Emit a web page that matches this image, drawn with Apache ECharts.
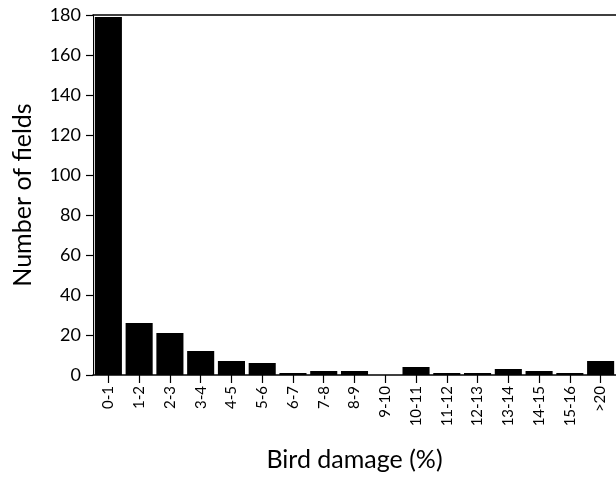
<!DOCTYPE html>
<html><head><meta charset="utf-8">
<script src="https://cdn.jsdelivr.net/npm/echarts@6/dist/echarts.min.js"></script>
<style>html,body{margin:0;padding:0;background:#fff}#c{width:616px;height:480px}</style>
</head><body><div id="c"></div>
<script>
var categories = ['0-1','1-2','2-3','3-4','4-5','5-6','6-7','7-8','8-9','9-10','10-11','11-12','12-13','13-14','14-15','15-16','>20'];
var fields = [179, 26, 21, 12, 7, 6, 1, 2, 2, 0, 4, 1, 1, 3, 2, 1, 7];
var yTicks = [0, 20, 40, 60, 80, 100, 120, 140, 160, 180];
var FONT = 'Lato';
var chart = echarts.init(document.getElementById('c'));
chart.setOption({
  animation: false,
  grid: {left: 93, right: 0, top: 15, bottom: 105},
  xAxis: [{
    type: 'category', data: categories, position: 'bottom',
    name: 'Bird damage (%)', nameLocation: 'middle', nameGap: 72,
    nameTextStyle: {color: '#000', fontFamily: FONT, fontSize: 25},
    axisLine: {show: true, lineStyle: {color: '#000', width: 1.5}},
    axisTick: {show: true, alignWithLabel: true, length: 8, lineStyle: {color: '#000', width: 1.2}},
    axisLabel: {rotate: 90, margin: 11, interval: 0, color: '#000', fontFamily: FONT, fontSize: 15}
  }, {
    type: 'category', data: categories, position: 'top',
    axisLine: {show: true, lineStyle: {color: '#000', width: 1.5}},
    axisTick: {show: false}, axisLabel: {show: false}
  }],
  yAxis: {
    type: 'value', min: 0, max: 180, interval: 20,
    name: 'Number of fields', nameLocation: 'middle', nameGap: 58,
    nameTextStyle: {color: '#000', fontFamily: FONT, fontSize: 25},
    axisLine: {show: true, lineStyle: {color: '#000', width: 1}},
    axisTick: {show: true, length: 7, lineStyle: {color: '#000', width: 1.2}},
    splitLine: {show: false},
    axisLabel: {margin: 12, color: '#000', fontFamily: FONT, fontSize: 18,
      formatter: function (v) { return yTicks.indexOf(v) >= 0 ? String(v) : ''; }}
  },
  series: [{
    type: 'bar', data: fields, xAxisIndex: 0, barCategoryGap: '12%',
    itemStyle: {color: '#000'}
  }]
});
</script></body></html>
